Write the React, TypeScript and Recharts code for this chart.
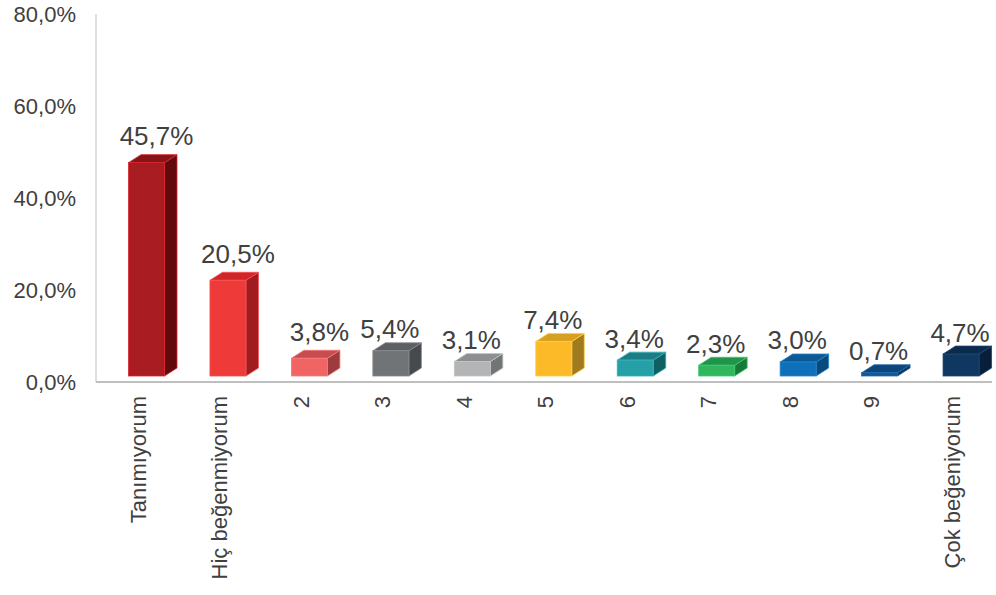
import * as React from "react";
import { Bar, BarChart, XAxis, YAxis } from "recharts";

const categories = [
  "Tanımıyorum",
  "Hiç beğenmiyorum",
  "2",
  "3",
  "4",
  "5",
  "6",
  "7",
  "8",
  "9",
  "Çok beğeniyorum",
];
const values = [45.7, 20.5, 3.8, 5.4, 3.1, 7.4, 3.4, 2.3, 3.0, 0.7, 4.7];
const yTicks = [0, 20, 40, 60, 80];

// front, top, side, edge
const palette = [
  ["#A91C22", "#86151A", "#62090D", "#D8262C"],
  ["#EF3A3A", "#D02628", "#A01C20", "#F55050"],
  ["#F06464", "#C84B4E", "#9C3C3F", "#F47A7A"],
  ["#717477", "#5D6063", "#474A4D", "#85888B"],
  ["#B2B4B5", "#8D9091", "#727576", "#C2C4C5"],
  ["#FDBA28", "#D8A020", "#A07A1E", "#FFD040"],
  ["#25A0A6", "#1C7E84", "#0F5F64", "#34B2B8"],
  ["#30B65C", "#20954A", "#167A38", "#44C870"],
  ["#0E70B8", "#0B5A95", "#084A7C", "#2484C8"],
  ["#11589A", "#0D467B", "#093660", "#2268A8"],
  ["#0F3760", "#0B2B4D", "#081F3A", "#1C4674"],
];

const data = categories.map((name, i) => ({ name, value: values[i] }));

const font = '"Liberation Sans", Arial, sans-serif';
const textColor = "#404040";
const fmt = (v: number) => v.toFixed(1).replace(".", ",") + "%";

function Bar3D(props: any) {
  const { x, width, height, index, value } = props;
  const base = 382;
  const [front, top, side, edge] = palette[index];
  const dx = 12.5;
  const dy = 8;
  const fx = x + width / 2 - 8.5;
  const fw = 36;
  const fb = base - 6;
  const fh = Math.max(height * 1.015, 1.5);
  const ft = fb - fh;
  const v = Array.isArray(value) ? value[1] - value[0] : value;
  const shifted = index < 3;
  const lx = fx + fw / 2 - 1 + (shifted ? 11 : 0);
  const ly = ft - dy - 4.5 - (shifted ? 5 : 0);
  return (
    <g>
      <polygon
        points={`${fx + fw},${fb} ${fx + fw + dx},${fb - dy} ${fx + fw + dx},${ft - dy} ${fx + fw},${ft}`}
        fill={side}
        stroke={edge}
        strokeWidth={0.8}
        strokeLinejoin="round"
      />
      <polygon
        points={`${fx},${ft} ${fx + dx},${ft - dy} ${fx + fw + dx},${ft - dy} ${fx + fw},${ft}`}
        fill={top}
        stroke={edge}
        strokeWidth={0.8}
        strokeLinejoin="round"
      />
      <rect x={fx} y={ft} width={fw} height={fh} fill={front} stroke={edge} strokeWidth={0.8} />
      <text x={lx} y={ly} textAnchor="middle" fontSize={26} fontFamily={font} fill={textColor}>
        {fmt(v)}
      </text>
    </g>
  );
}

function CategoryTick(props: any) {
  const { x, y, payload } = props;
  const tx = x + 1.5;
  const ty = y + 6;
  return (
    <text
      x={tx}
      y={ty}
      transform={`rotate(-90, ${tx}, ${ty})`}
      textAnchor="end"
      dy="0.35em"
      fontSize={22}
      fontFamily={font}
      fill={textColor}
    >
      {payload.value}
    </text>
  );
}

export default function App() {
  return (
    <div style={{ position: "absolute", left: 0, top: 0, background: "#fff" }}>
      <BarChart width={996} height={595} data={data} margin={{ top: 14, right: 4, bottom: 0, left: 0 }}>
        <YAxis
          domain={[0, 80]}
          ticks={yTicks}
          tickFormatter={fmt}
          width={96}
          tickLine={false}
          tickMargin={14}
          axisLine={{ stroke: "#BFBFBF", strokeWidth: 1 }}
          tick={{ fontSize: 22, fontFamily: font, fill: textColor }}
        />
        <XAxis
          dataKey="name"
          interval={0}
          height={213}
          tickLine={false}
          axisLine={{ stroke: "#BFBFBF", strokeWidth: 2 }}
          tick={<CategoryTick />}
        />
        <Bar dataKey="value" barSize={36} shape={<Bar3D />} isAnimationActive={false} />
      </BarChart>
    </div>
  );
}
